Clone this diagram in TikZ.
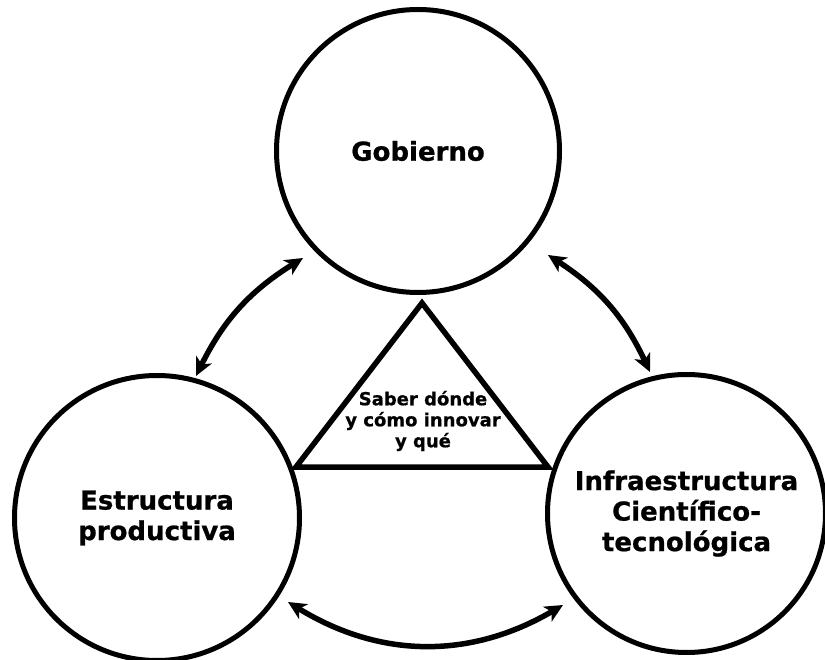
\documentclass[tikz,border=0pt]{standalone}
\usepackage{fontspec}
\setmainfont{DejaVu Sans}[BoldFont=DejaVu Sans Bold,BoldFeatures={FakeBold=0.8}]
\usetikzlibrary{arrows.meta,calc}
\begin{document}
\begin{tikzpicture}[x=1pt,y=-1pt,
  circ/.style={circle,draw,line width=5pt,inner sep=0pt,align=center,
    font=\bfseries\fontsize{26}{30.5}\selectfont},
  tip/.style={Stealth[length=18pt,width=17pt,inset=5pt]},
  link/.style={{Stealth[length=18pt,width=17pt,inset=5pt]}-{Stealth[length=18pt,width=17pt,inset=5pt]},line width=5.5pt},
  tri/.style={line width=5.5pt,line join=miter},
  tritext/.style={align=center,font=\bfseries\fontsize{18}{21}\selectfont}]
\useasboundingbox (0,0) rectangle (825,660);
\node[circ,minimum size=283pt] (gob) at (418,151) {Gobierno};
\node[circ,minimum size=285pt] (est) at (157,518) {Estructura\\productiva};
\node[circ,minimum size=278pt] (inf) at (686.5,513.5) {Infraestructura\\Científico-\\tecnológica};
% triangle
\coordinate (ta) at (422,303);
\coordinate (tl) at (296,467);
\coordinate (tr) at (548,467);
\draw[tri] (ta) -- (tl) -- (tr) -- cycle;
\node[tritext] (saber) at (423,421) {Saber dónde\\y cómo innovar\\y qué};
% arrow ends
\coordinate (e1) at ($(est.center)+(39,-142)$);
\coordinate (g1) at ($(gob.center)+(-115,107)$);
\coordinate (g2) at ($(gob.center)+(130,104)$);
\coordinate (i2) at ($(inf.center)+(-36.5,-141.5)$);
\coordinate (e3) at ($(est.center)+(131,84)$);
\coordinate (i3) at ($(inf.center)+(-123.5,91.5)$);
\draw[link] (e1) to[bend left=16] (g1);
\draw[link] (g2) to[bend left=16] (i2);
\draw[link] (e3) to[bend right=31] (i3);
\end{tikzpicture}
\end{document}
